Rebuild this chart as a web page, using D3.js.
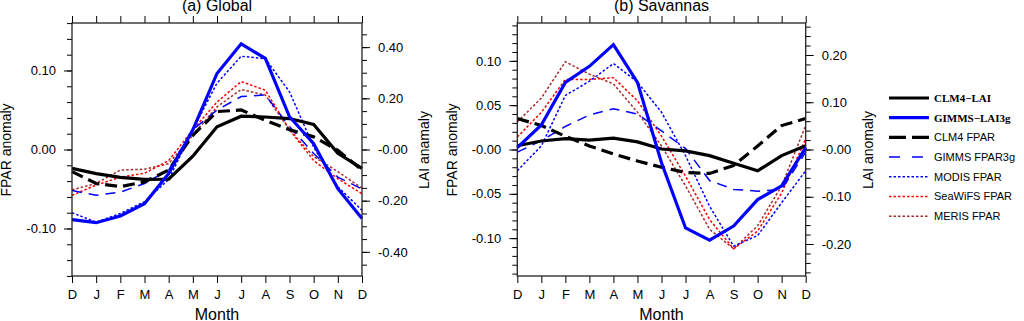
<!DOCTYPE html>
<html>
<head>
  <meta charset="utf-8">
  <title>FPAR and LAI anomaly</title>
  <script src="https://d3js.org/d3.v7.min.js"></script>
  <style>
    body { margin: 0; background: #fff; }
    text { font-family: "Liberation Sans", Arial, sans-serif; fill: #000; }
  </style>
</head>
<body>
<svg id="chart" width="1024" height="321"></svg>
<script>
// month labels, Dec to Dec
var months = ["D", "J", "F", "M", "A", "M", "J", "J", "A", "S", "O", "N", "D"];

// (a) Global - LAI series on right axis, FPAR series on left axis
var globalClm4Lai   = [-0.074, -0.094, -0.109, -0.117, -0.116, -0.026, 0.089, 0.130, 0.127, 0.121, 0.098, -0.015, -0.074];
var globalGimmsLai  = [-0.274, -0.286, -0.260, -0.212, -0.094, 0.077, 0.297, 0.413, 0.356, 0.128, 0.023, -0.153, -0.270];
var globalClm4Fpar  = [-0.028, -0.043, -0.047, -0.041, -0.026, 0.018, 0.048, 0.050, 0.037, 0.025, 0.016, -0.001, -0.026];
var globalGimmsFpar = [-0.052, -0.058, -0.054, -0.043, -0.026, 0.025, 0.050, 0.067, 0.069, 0.029, -0.005, -0.035, -0.050];
var globalModis     = [-0.080, -0.092, -0.081, -0.066, -0.038, 0.025, 0.084, 0.118, 0.115, 0.073, 0.003, -0.047, -0.077];
var globalSeawifs   = [-0.058, -0.045, -0.035, -0.030, -0.014, 0.025, 0.060, 0.086, 0.075, 0.025, -0.014, -0.037, -0.056];
var globalMeris     = [-0.051, -0.043, -0.026, -0.025, -0.018, 0.018, 0.054, 0.076, 0.069, 0.025, -0.009, -0.028, -0.049];

// (b) Savannas
var savClm4Lai   = [0.008, 0.018, 0.023, 0.020, 0.024, 0.016, 0.001, -0.003, -0.013, -0.029, -0.045, -0.013, 0.008];
var savGimmsLai  = [0.004, 0.052, 0.142, 0.176, 0.222, 0.142, -0.028, -0.166, -0.192, -0.162, -0.106, -0.077, 0.004];
var savClm4Fpar  = [0.035, 0.027, 0.015, 0.004, -0.005, -0.013, -0.020, -0.026, -0.027, -0.018, 0.004, 0.027, 0.035];
var savGimmsFpar = [-0.003, 0.010, 0.026, 0.039, 0.046, 0.040, 0.021, 0.001, -0.035, -0.045, -0.047, -0.045, -0.003];
var savModis     = [-0.024, 0.004, 0.061, 0.077, 0.097, 0.076, 0.042, -0.007, -0.064, -0.109, -0.097, -0.060, -0.024];
var savSeawifs   = [0.014, 0.042, 0.079, 0.079, 0.081, 0.055, 0.015, -0.030, -0.079, -0.112, -0.092, -0.049, 0.012];
var savMeris     = [0.031, 0.058, 0.099, 0.085, 0.074, 0.042, 0.004, -0.041, -0.090, -0.112, -0.086, -0.041, 0.027];

// tick labels
var globalFparTicks  = [0.10, 0.00, -0.10];
var globalFparLabels = ["0.10", "0.00", "-0.10"];
var globalLaiTicks   = [0.40, 0.20, 0.00, -0.20, -0.40];
var globalLaiLabels  = ["0.40", "0.20", "-0.00", "-0.20", "-0.40"];
var savFparTicks  = [0.10, 0.05, 0.00, -0.05, -0.10];
var savFparLabels = ["0.10", "0.05", "-0.00", "-0.05", "-0.10"];
var savLaiTicks   = [0.20, 0.10, 0.00, -0.10, -0.20];
var savLaiLabels  = ["0.20", "0.10", "-0.00", "-0.10", "-0.20"];

var legendNames = ["CLM4\u2212LAI", "GIMMS\u2212LAI3g", "CLM4 FPAR", "GIMMS FPAR3g", "MODIS FPAR", "SeaWiFS FPAR", "MERIS FPAR"];

// line styles in legend order
var styles = [
  { color: "#000", width: 3.2, dash: null, serif: true },
  { color: "#0000ff", width: 3.2, dash: null, serif: true },
  { color: "#000", width: 3.2, dash: "12,6" },
  { color: "#0000ff", width: 1.5, dash: "10,7" },
  { color: "#0000ff", width: 1.5, dash: "2.5,2" },
  { color: "#ff0000", width: 1.5, dash: "2.5,2" },
  { color: "#a52a2a", width: 1.5, dash: "2.5,2" }
];

var svg = d3.select("#chart");
var plotTop = 23, plotBottom = 276;

function drawPanel(opt) {
  var x = d3.scaleLinear().domain([0, 12]).range([opt.x0, opt.x1]);
  var yF = d3.scaleLinear().domain([-opt.fparMax, opt.fparMax]).range([plotBottom, plotTop]);
  var yL = d3.scaleLinear().domain([-opt.laiMax, opt.laiMax]).range([plotBottom, plotTop]);
  var g = svg.append("g");

  // minor ticks
  g.append("g").attr("transform", "translate(" + opt.x0 + ",0)")
    .call(d3.axisLeft(yF).tickValues(opt.fparMinor).tickSize(5).tickFormat(""))
    .call(function(s) { s.select(".domain").remove(); });
  g.append("g").attr("transform", "translate(" + opt.x1 + ",0)")
    .call(d3.axisRight(yL).tickValues(opt.laiMinor).tickSize(5).tickFormat(""))
    .call(function(s) { s.select(".domain").remove(); });

  // major ticks with labels
  g.append("g").attr("transform", "translate(" + opt.x0 + ",0)")
    .call(d3.axisLeft(yF).tickValues(opt.fparTicks).tickSize(8).tickPadding(8)
      .tickFormat(function(d, i) { return opt.fparLabels[i]; }))
    .call(function(s) { s.select(".domain").remove(); });
  g.append("g").attr("transform", "translate(" + opt.x1 + ",0)")
    .call(d3.axisRight(yL).tickValues(opt.laiTicks).tickSize(8).tickPadding(8)
      .tickFormat(function(d, i) { return opt.laiLabels[i]; }))
    .call(function(s) { s.select(".domain").remove(); });

  g.append("g").attr("transform", "translate(0," + plotBottom + ")")
    .call(d3.axisBottom(x).tickValues(d3.range(13)).tickSize(7).tickPadding(7)
      .tickFormat(function(d) { return months[d]; }))
    .call(function(s) { s.select(".domain").remove(); });
  g.append("g").attr("transform", "translate(0," + plotTop + ")")
    .call(d3.axisTop(x).tickValues(d3.range(13)).tickSize(7).tickFormat(""))
    .call(function(s) { s.select(".domain").remove(); });

  g.selectAll(".tick text").style("font-family", "'Liberation Sans', Arial, sans-serif").style("font-size", "13px");
  g.selectAll(".tick line").attr("stroke", "#000");

  // series: draw dotted first, solid last
  var series = [
    { data: opt.meris, s: 6, y: yF },
    { data: opt.seawifs, s: 5, y: yF },
    { data: opt.modis, s: 4, y: yF },
    { data: opt.gimmsFpar, s: 3, y: yF },
    { data: opt.clm4Fpar, s: 2, y: yF },
    { data: opt.clm4Lai, s: 0, y: yL },
    { data: opt.gimmsLai, s: 1, y: yL }
  ];
  series.forEach(function(ser) {
    var st = styles[ser.s];
    var line = d3.line().x(function(d, i) { return x(i); }).y(function(d) { return ser.y(d); });
    g.append("path").datum(ser.data)
      .attr("d", line)
      .attr("fill", "none")
      .attr("stroke", st.color)
      .attr("stroke-width", st.width)
      .attr("stroke-dasharray", st.dash);
  });

  // frame
  g.append("rect").attr("x", opt.x0).attr("y", plotTop)
    .attr("width", opt.x1 - opt.x0).attr("height", plotBottom - plotTop)
    .attr("fill", "none").attr("stroke", "#222").attr("stroke-width", 1.3);

  var cx = (opt.x0 + opt.x1) / 2;
  g.append("text").attr("x", cx).attr("y", 11).attr("text-anchor", "middle")
    .style("font-size", "16px").text(opt.title);
  g.append("text").attr("x", cx).attr("y", 320).attr("text-anchor", "middle")
    .style("font-size", "16px").text("Month");
  g.append("text").attr("transform", "translate(" + opt.leftLabelX + ",150) rotate(-90)")
    .attr("text-anchor", "middle").style("font-size", "14px").text("FPAR anomaly");
  g.append("text").attr("transform", "translate(" + opt.rightLabelX + ",150) rotate(-90)")
    .attr("text-anchor", "middle").style("font-size", "14px").text(opt.laiTitle);
}

drawPanel({
  x0: 72, x1: 362, fparMax: 0.1601, laiMax: 0.4943,
  fparTicks: globalFparTicks, fparLabels: globalFparLabels,
  laiTicks: globalLaiTicks, laiLabels: globalLaiLabels,
  fparMinor: d3.range(-0.16, 0.1601, 0.02), laiMinor: d3.range(-0.45, 0.4501, 0.05),
  clm4Lai: globalClm4Lai, gimmsLai: globalGimmsLai, clm4Fpar: globalClm4Fpar,
  gimmsFpar: globalGimmsFpar, modis: globalModis, seawifs: globalSeawifs, meris: globalMeris,
  title: "(a) Global", laiTitle: "LAI anamaly", leftLabelX: 11, rightLabelX: 429
});

drawPanel({
  x0: 517.3, x1: 805.7, fparMax: 0.1427, laiMax: 0.2677,
  fparTicks: savFparTicks, fparLabels: savFparLabels,
  laiTicks: savLaiTicks, laiLabels: savLaiLabels,
  fparMinor: d3.range(-0.14, 0.1401, 0.01), laiMinor: d3.range(-0.26, 0.2601, 0.02),
  clm4Lai: savClm4Lai, gimmsLai: savGimmsLai, clm4Fpar: savClm4Fpar,
  gimmsFpar: savGimmsFpar, modis: savModis, seawifs: savSeawifs, meris: savMeris,
  title: "(b) Savannas", laiTitle: "LAI anomaly", leftLabelX: 457, rightLabelX: 873
});

// legend
var legendY = d3.range(7).map(function(i) { return 98 + i * 19.7; });
var leg = svg.append("g");
legendNames.forEach(function(name, i) {
  var st = styles[i];
  leg.append("line").attr("x1", 889).attr("x2", 929)
    .attr("y1", legendY[i]).attr("y2", legendY[i])
    .attr("stroke", st.color).attr("stroke-width", st.width)
    .attr("stroke-dasharray", i == 2 ? "17,6" : (i == 3 ? "11,12" : st.dash));
  leg.append("text").attr("x", 934).attr("y", legendY[i]).attr("dy", "0.35em")
    .style("font-size", "11px")
    .style("font-family", st.serif ? "'Liberation Serif', 'Times New Roman', serif" : "'Liberation Sans', Arial, sans-serif")
    .style("font-weight", st.serif ? "bold" : "normal")
    .text(name);
});
</script>
</body>
</html>
